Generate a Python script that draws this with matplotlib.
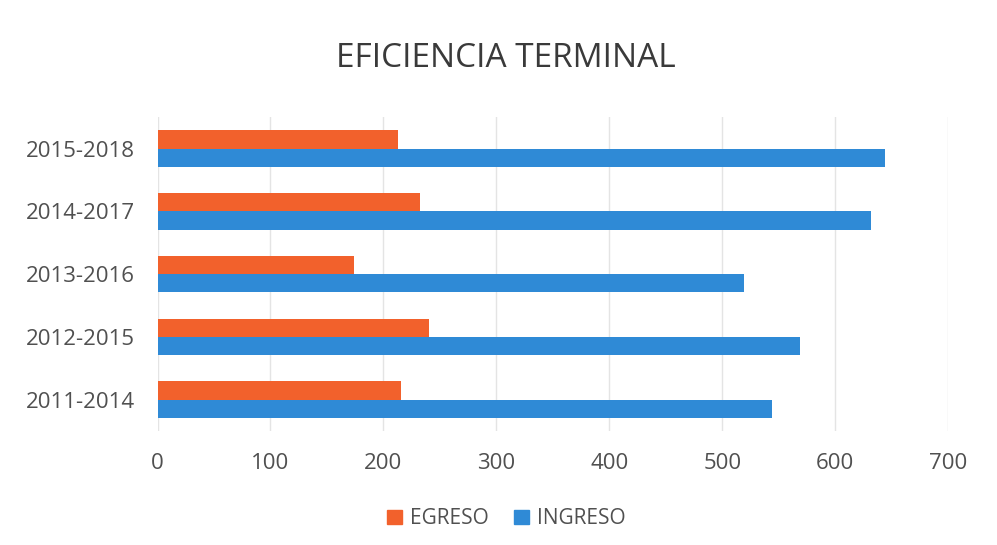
import numpy as np
import matplotlib.pyplot as plt
from matplotlib.patches import Patch

# datos
periodos = ['2011-2014', '2012-2015', '2013-2016', '2014-2017', '2015-2018']
egreso = [216, 240, 174, 232, 213]
ingreso = [544, 569, 519, 632, 644]

c_egreso = '#F2612C'
c_ingreso = '#2F8AD6'
gris = '#505050'

plt.rcParams['font.family'] = ['Open Sans', 'DejaVu Sans']

fig = plt.figure(figsize=(9.97, 5.45), dpi=100)
ax = fig.add_axes([0.158, 0.209, 0.793, 0.576])

y = np.arange(len(periodos))
h = 0.29
ax.barh(y + h / 2, egreso, height=h, color=c_egreso, label='EGRESO', zorder=3)
ax.barh(y - h / 2, ingreso, height=h, color=c_ingreso, label='INGRESO', zorder=3)

ax.set_xlim(0, 700)
ax.set_ylim(-0.5, 4.5)
ax.set_xticks(range(0, 701, 100))
ax.set_yticks(y)
ax.set_yticklabels(periodos)
ax.tick_params(axis='both', length=0, colors=gris, labelsize=16)
ax.tick_params(axis='x', pad=16)
ax.tick_params(axis='y', pad=16)
ax.grid(axis='x', color='#E4E4E4', linewidth=1, zorder=0)
for s in ax.spines.values():
    s.set_visible(False)

fig.text(0.507, 0.892, 'EFICIENCIA TERMINAL', ha='center', va='center',
         fontsize=24, color='#3a3a3a')

handles = [Patch(color=c_egreso, label='EGRESO'),
           Patch(color=c_ingreso, label='INGRESO')]
fig.legend(handles=handles, loc='center', bbox_to_anchor=(0.508, 0.048),
           ncol=2, frameon=False, fontsize=15, handlelength=0.7,
           handleheight=0.7, handletextpad=0.4, columnspacing=1.2,
           labelcolor=gris)

fig.savefig('out.png', dpi=100, facecolor='white')
